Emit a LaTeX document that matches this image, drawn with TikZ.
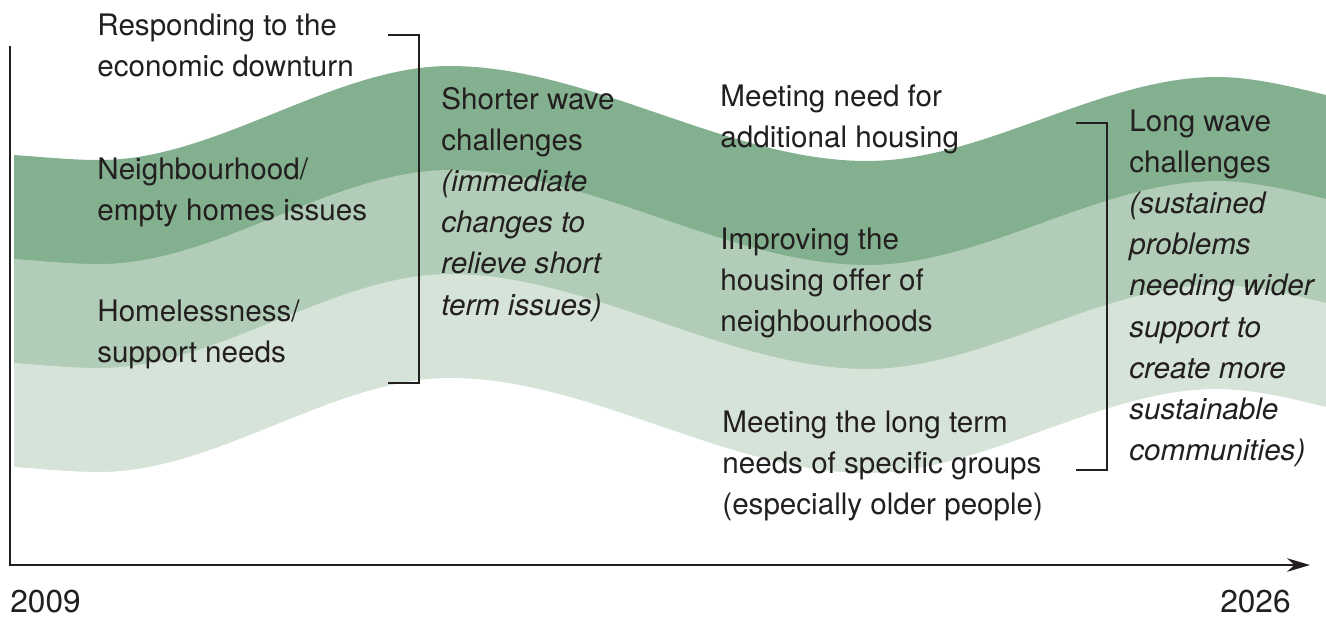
\documentclass[tikz,border=0pt]{standalone}
\usepackage{fontspec}
\setmainfont{TeX Gyre Heros}
\usetikzlibrary{arrows.meta}
\definecolor{bandA}{HTML}{83B08E}
\definecolor{bandB}{HTML}{B2CDB7}
\definecolor{bandC}{HTML}{D6E3D8}
\definecolor{ink}{HTML}{231F20}
\newcommand{\wavecurve}{(14,155) .. controls (43,157) and (71,160) .. (100,160) .. controls (217,160) and (333,66) .. (450,66) .. controls (589,66) and (728,161) .. (867,161) .. controls (984,161) and (1100,77) .. (1217,77) .. controls (1253,77) and (1293,87) .. (1326,95)}
\newcommand{\belowwave}{\wavecurve -- (1326,700) -- (14,700) -- cycle}
\begin{document}
\begin{tikzpicture}[x=0.5pt,y=-0.5pt,
  lbl/.style={anchor=base west,inner sep=0pt,text=ink,font=\fontsize{14.8}{20.6}\selectfont},
  yearlbl/.style={lbl,font=\fontsize{15.8}{20.6}\selectfont},
  axisline/.style={draw=ink,line width=1.1pt,line join=miter},
  bracketline/.style={draw=ink,line width=1pt,line join=miter}]
\useasboundingbox (0,0) rectangle (1326,617);
% bands
\fill[bandA] \belowwave;
\begin{scope}[yshift=-52pt]\fill[bandB] \belowwave;\end{scope}
\begin{scope}[yshift=-104pt]\fill[bandC] \belowwave;\end{scope}
\begin{scope}[yshift=-156pt]\fill[white] \belowwave;\end{scope}
% axes
\coordinate (ytop) at (10,46);
\coordinate (origin) at (10,565);
\coordinate (xend) at (1310,565);
\draw[axisline,-{Stealth[length=11.5pt,width=6.8pt]}] (ytop) -- (origin) -- (xend);
% brackets
\coordinate (sbT) at (388,35);
\coordinate (sbTc) at (419,35);
\coordinate (sbBc) at (419,383);
\coordinate (sbB) at (388,383);
\draw[bracketline] (sbT) -- (sbTc) -- (sbBc) -- (sbB);
\coordinate (lbT) at (1076,123);
\coordinate (lbTc) at (1107,123);
\coordinate (lbBc) at (1107,470);
\coordinate (lbB) at (1076,470);
\draw[bracketline] (lbT) -- (lbTc) -- (lbBc) -- (lbB);
% labels
\node[lbl] (resp) at (97,35) {\begin{tabular}[t]{@{}l@{}}Responding to the\\economic downturn\end{tabular}};
\node[lbl] (neigh) at (97,179) {\begin{tabular}[t]{@{}l@{}}Neighbourhood/\\empty homes issues\end{tabular}};
\node[lbl] (homeless) at (97,321) {\begin{tabular}[t]{@{}l@{}}Homelessness/\\support needs\end{tabular}};
\node[lbl] (shorter) at (441,109) {\begin{tabular}[t]{@{}l@{}}Shorter wave\\challenges\\\textit{(immediate}\\\textit{changes to}\\\textit{relieve short}\\\textit{term issues)}\end{tabular}};
\node[lbl] (meetneed) at (720,106) {\begin{tabular}[t]{@{}l@{}}Meeting need for\\additional housing\end{tabular}};
\node[lbl] (improve) at (720,249) {\begin{tabular}[t]{@{}l@{}}Improving the\\housing offer of\\neighbourhoods\end{tabular}};
\node[lbl] (longterm) at (722,432) {\begin{tabular}[t]{@{}l@{}}Meeting the long term\\needs of specific groups\\(especially older people)\end{tabular}};
\node[lbl] (longwave) at (1129,131) {\begin{tabular}[t]{@{}l@{}}Long wave\\challenges\\\textit{(sustained}\\\textit{problems}\\\textit{needing wider}\\\textit{support to}\\\textit{create more}\\\textit{sustainable}\\\textit{communities)}\end{tabular}};
\node[yearlbl] (ystart) at (10,612) {2009};
\node[yearlbl,anchor=base east] (yend) at (1291,612) {2026};
\end{tikzpicture}
\end{document}
